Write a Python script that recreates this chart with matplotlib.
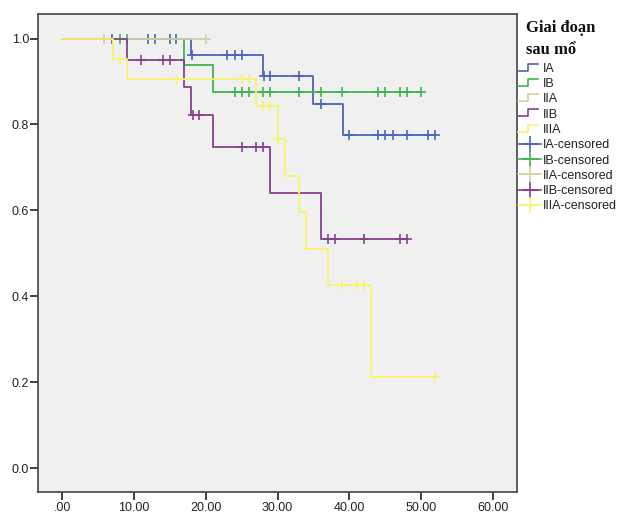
import numpy as np
import matplotlib
matplotlib.use("Agg")
import matplotlib.pyplot as plt
from matplotlib.lines import Line2D
from matplotlib.legend_handler import HandlerBase

# ---------------- data ----------------
groups = ["IA", "IB", "IIA", "IIB", "IIIA"]

ia_event_t = [18.0, 28.0, 35.0, 39.1]
ia_surv = [0.962, 0.912, 0.847, 0.776]
ia_cens_t = [6.9, 11.9, 12.9, 15.0, 15.9, 18.1, 22.9, 24.0, 25.0, 28.1, 29.0,
             33.0, 36.0, 40.0, 44.0, 45.0, 46.1, 48.0, 51.0, 52.0]

ib_event_t = [17.0, 21.0]
ib_surv = [0.9375, 0.875]
ib_cens_t = [8.0, 9.0, 24.0, 25.0, 26.0, 28.0, 29.0, 33.0, 36.0, 39.0,
             44.0, 45.0, 47.0, 48.0, 50.0]

iia_event_t = []
iia_surv = []
iia_cens_t = [5.8, 20.0]

iib_event_t = [9.0, 17.0, 18.0, 21.0, 29.0, 36.0]
iib_surv = [0.949, 0.887, 0.821, 0.747, 0.640, 0.533]
iib_cens_t = [11.0, 14.0, 15.0, 18.2, 19.0, 25.0, 27.0, 28.0, 37.0, 38.0,
              42.0, 47.0, 48.0]

iiia_event_t = [7.0, 9.0, 27.0, 30.0, 31.0, 33.0, 34.0, 37.0, 43.0]
iiia_surv = [0.952, 0.905, 0.844, 0.767, 0.681, 0.596, 0.511, 0.426, 0.213]
iiia_cens_t = [8.0, 16.0, 25.0, 26.0, 28.0, 29.0, 30.1, 39.0, 41.0, 42.0, 52.0]

x_ticks = [0, 10, 20, 30, 40, 50, 60]
x_tick_labels = [".00", "10.00", "20.00", "30.00", "40.00", "50.00", "60.00"]
y_ticks = [0.0, 0.2, 0.4, 0.6, 0.8, 1.0]
y_tick_labels = ["0.0", "0.2", "0.4", "0.6", "0.8", "1.0"]

legend_title_lines = ["Giai đoạn", "sau mổ"]

colors = {"IA": "#4a64b8", "IB": "#3fb44f", "IIA": "#d4cf9e",
          "IIB": "#86408c", "IIIA": "#f7f46e"}

data = {
    "IA": (ia_event_t, ia_surv, ia_cens_t),
    "IB": (ib_event_t, ib_surv, ib_cens_t),
    "IIA": (iia_event_t, iia_surv, iia_cens_t),
    "IIB": (iib_event_t, iib_surv, iib_cens_t),
    "IIIA": (iiia_event_t, iiia_surv, iiia_cens_t),
}

# ---------------- figure ----------------
plt.rcParams['font.family'] = ['Liberation Sans', 'DejaVu Sans']
fig = plt.figure(figsize=(6.2, 5.14), dpi=100)
W, H = 620, 514
L, R, T, B = 38.3, 517.3, 14.0, 492.0
ax = fig.add_axes([L / W, 1 - B / H, (R - L) / W, (B - T) / H])
ax.set_facecolor("#f0f0f0")

def surv_at(t, ev_t, ev_s):
    s = 1.0
    for et, es in zip(ev_t, ev_s):
        if t >= et:
            s = es
    return s

for i, g in enumerate(groups):
    ev_t, ev_s, c_t = data[g]
    end_t = max(c_t + ev_t)
    xs = [0.0] + list(ev_t) + [end_t]
    ys = [1.0] + list(ev_s) + [ev_s[-1] if ev_s else 1.0]
    ax.step(xs, ys, where="post", color=colors[g], lw=1.3, zorder=2 + i)
    cy = [surv_at(t, ev_t, ev_s) for t in c_t]
    ax.plot(c_t, cy, linestyle="none", marker="+", color=colors[g],
            markersize=7, mew=1.2, zorder=2 + i)

ax.set_xlim(-3.34, 63.4)
ax.set_ylim(-0.055, 1.057)
ax.set_xticks(x_ticks)
ax.set_xticklabels(x_tick_labels)
ax.set_yticks(y_ticks)
ax.set_yticklabels(y_tick_labels)
ax.tick_params(axis="both", direction="out", length=5.6, width=1.3,
               color="#333333", labelsize=9, labelcolor="#222222")
ax.tick_params(axis="x", pad=1.5)
ax.tick_params(axis="y", pad=1)
for sp in ax.spines.values():
    sp.set_color("#444444")
    sp.set_linewidth(1.2)

# ---------------- legend ----------------
class StepHandler(HandlerBase):
    def create_artists(self, legend, orig_handle, xdescent, ydescent,
                       width, height, fontsize, trans):
        x0 = -xdescent
        y0 = -ydescent
        xs = [x0, x0 + width * 0.45, x0 + width * 0.45, x0 + width * 0.85]
        ys = [y0 + height * 0.15, y0 + height * 0.15, y0 + height * 0.95, y0 + height * 0.95]
        l = Line2D(xs, ys, color=orig_handle.get_color(), lw=1.2, transform=trans)
        return [l]

class CensHandler(HandlerBase):
    def create_artists(self, legend, orig_handle, xdescent, ydescent,
                       width, height, fontsize, trans):
        x0 = -xdescent
        y0 = -ydescent + height / 2
        l = Line2D([x0, x0 + width], [y0, y0], color=orig_handle.get_color(),
                   lw=1.2, transform=trans)
        m = Line2D([x0 + width / 2], [y0], marker="+", markersize=11, mew=1.2,
                   color=orig_handle.get_color(), linestyle="none", transform=trans)
        return [l, m]

class StepH(Line2D):
    pass

class CensH(Line2D):
    pass

handles = []
labels = []
for g in groups:
    handles.append(StepH([], [], color=colors[g]))
    labels.append(g)
for g in groups:
    handles.append(CensH([], [], color=colors[g]))
    labels.append(g + "-censored")

for k, line in enumerate(legend_title_lines):
    fig.text(526 / W, 1 - (28 + 22 * k) / H, line, family="Liberation Serif",
             fontweight="bold", fontsize=12, va="center", ha="left", color="#111111")

leg = fig.legend(handles, labels, loc="upper left",
                 bbox_to_anchor=(518 / W, 1 - 63 / H), frameon=False,
                 fontsize=9, handlelength=1.85, handletextpad=0.15,
                 labelspacing=0.26, borderpad=0, borderaxespad=0,
                 handler_map={StepH: StepHandler(), CensH: CensHandler()})
for t in leg.get_texts():
    t.set_color("#222222")

fig.savefig("out.png", dpi=100, facecolor="white")
